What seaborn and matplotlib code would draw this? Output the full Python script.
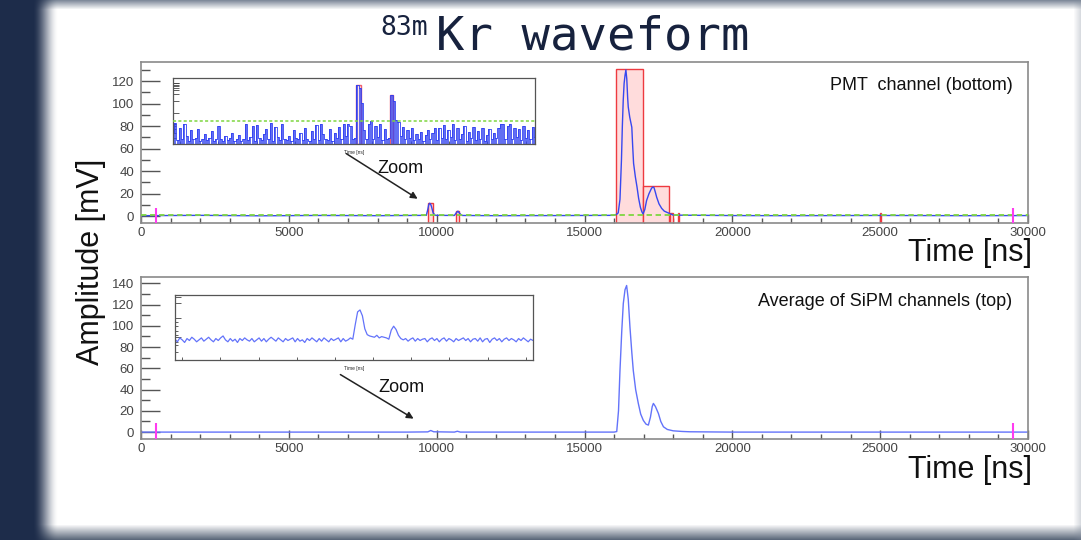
import matplotlib
matplotlib.use("Agg")
import matplotlib.pyplot as plt
import numpy as np
import seaborn as sns

# ---- data ----
# PMT channel (bottom), main trace
pmt_t = [0, 2000, 4000, 6000, 8000, 9650, 9700, 9730, 9760, 9790, 9820, 9850, 9880, 9950,
         10600, 10660, 10720, 10780, 10850, 12000, 14000, 16000, 16100, 16140, 16200, 16250,
         16280, 16310, 16340, 16370, 16400, 16430, 16460, 16480, 16530, 16600, 16630, 16660,
         16720, 16776, 16830, 16890, 16940, 16980, 17040, 17100, 17180, 17270, 17320, 17350,
         17400, 17440, 17520, 17610, 17700, 17830, 18000, 20000, 22000, 25000, 28000, 30000]
pmt_a = [0.5, 0.8, 0.4, 0.7, 0.5, 0.8, 6, 10, 11.5, 11, 9, 6, 3, 0.8,
         0.7, 3, 4.5, 2.5, 0.7, 0.5, 0.6, 0.8, 2, 3, 15, 50,
         80, 103, 118, 125, 130, 122, 105, 97, 88, 79, 62, 47,
         35, 26, 16, 8, 4, 2, 6, 14, 20, 25, 26, 25.5,
         21, 17, 11, 7, 4.5, 3, 1, 0.6, 0.5, 0.7, 0.5, 0.6]
pmt_threshold = 1.0

# pulse windows found on the PMT trace
box_start = [9700, 10640, 16060, 16980, 17890, 18150, 24980]
box_end = [9880, 10770, 16980, 17860, 18000, 18200, 25040]
box_height = [12.0, 4.8, 131, 27, 2.7, 2.5, 3.0]

# SiPM average (top), main trace
sipm_t = [0, 5000, 9000, 9700, 9800, 9900, 10600, 10700, 10800, 16000, 16090, 16150, 16200,
          16260, 16312, 16370, 16425, 16480, 16537, 16600, 16650, 16730, 16820, 16900, 16990,
          17080, 17160, 17230, 17290, 17330, 17400, 17500, 17580, 17670, 17800, 18000, 18300,
          18570, 20000, 30000]
sipm_a = [0, 0, 0, 0.2, 1.5, 0.3, 0, 0.8, 0, 0, 0.5, 20, 58,
          95, 121, 134, 138, 125, 99, 75, 58, 40, 27, 17, 11,
          7.5, 6.6, 14, 24, 27, 24, 17.5, 10, 5, 2.5, 1.2, 0.6,
          0.3, 0, 0]

# trigger markers
marker_t = [500, 29500]
marker_top = 7

# zoomed insets (arbitrary units, one value per sample)
pmt_zoom = [
    1.8, 3.1, 0.6, 2.4, 0.8, 3.0, 1.2, 0.5, 2.0, 0.7, 0.9, 2.2, 0.4, 0.8, 1.5, 0.6, 0.9, 1.9, 0.5, 0.7,
    2.6, 0.8, 0.5, 1.2, 0.6, 0.9, 1.6, 0.4, 0.7, 1.3, 0.5, 0.8, 2.9, 0.6, 1.1, 2.7, 0.5, 2.8, 0.9, 0.6,
    1.4, 2.2, 0.7, 3.1, 0.5, 2.5, 1.0, 0.6, 2.9, 0.8, 0.6, 1.2, 0.5, 2.0, 0.9, 0.7, 1.6, 0.6, 2.3, 0.8,
    0.5, 1.9, 0.7, 2.8, 0.6, 3.0, 1.4, 0.8, 0.6, 2.2, 0.5, 1.6, 0.9, 2.5, 0.7, 2.9, 1.2, 3.0, 2.6, 0.8,
    0.9, 8.7, 8.2, 6.0, 2.1, 0.8, 3.0, 3.4, 0.7, 2.6, 1.0, 3.0, 0.6, 2.2, 0.8, 0.9, 7.2, 6.3, 3.6, 3.3,
    1.2, 2.5, 0.7, 2.1, 0.9, 2.3, 0.6, 1.5, 0.8, 1.8, 0.5, 1.3, 2.0, 0.7, 1.6, 2.3, 0.6, 2.4, 0.9, 2.8,
    0.7, 2.0, 1.1, 2.9, 0.6, 2.3, 0.8, 1.4, 2.6, 0.5, 1.7, 0.9, 2.5, 0.6, 1.9, 0.8, 2.4, 0.5, 1.3, 2.2,
    0.7, 1.6, 0.9, 2.3, 3.0, 2.9, 0.8, 2.6, 3.0, 0.7, 2.4, 1.1, 2.2, 0.6, 2.6, 0.9, 2.0, 0.7, 2.5, 1.0,
]
pmt_zoom_threshold = 3.4
zoom_box_start = [80.4, 95.3]
zoom_box_end = [82.6, 96.6]
zoom_box_height = [8.7, 7.2]

sipm_zoom = [
    3.2, 2.8, 3.4, 3.1, 2.7, 3.3, 3.0, 3.5, 3.2, 2.8, 3.1, 3.4, 2.9, 3.2, 3.5,
    3.1, 2.8, 3.3, 3.0, 3.4, 3.7, 3.1, 2.8, 3.3, 2.9, 3.2, 2.7, 3.3, 3.0, 3.4,
    3.1, 2.9, 3.3, 2.8, 3.1, 3.4, 2.9, 3.3, 2.8, 3.2, 3.5, 3.2, 2.9, 3.4, 3.1,
    2.8, 3.3, 3.0, 3.2, 3.4, 2.8, 3.3, 2.9, 3.1, 2.7, 3.3, 3.0, 3.4, 3.1, 2.8,
    3.3, 2.9, 3.4, 3.1, 2.8, 3.3, 3.0, 3.2, 3.4, 2.8, 3.3, 2.9, 3.1, 3.4, 3.2,
    5.4, 7.4, 7.7, 6.8, 4.8, 3.9, 3.7, 3.6, 3.5, 3.8, 3.4, 3.6, 3.5, 3.4, 3.2,
    4.6, 5.2, 4.7, 3.8, 3.3, 3.1, 3.3, 2.9, 3.2, 3.4, 2.9, 3.3, 3.0, 3.2, 3.3,
    2.8, 3.2, 3.4, 3.0, 3.3, 2.8, 3.2, 3.4, 2.9, 3.3, 3.1, 2.8, 3.3, 3.0, 3.2,
    3.4, 3.0, 3.3, 2.8, 3.2, 3.3, 2.9, 3.4, 2.8, 3.2, 3.3, 2.7, 3.2, 3.4, 3.0,
    3.3, 2.8, 3.2, 3.4, 3.0, 3.3, 3.1, 2.8, 3.3, 3.0, 3.4, 3.1, 2.8, 3.2, 3.0,
]

# ---- style ----
sns.set_style("ticks")
plt.rcParams["font.family"] = ["Liberation Sans", "DejaVu Sans"]

BLUE = "#3747f0"
BLUE_LIGHT = "#6373fa"
GREEN = "#7fd640"
MAGENTA = "#ff3cf0"
RED = "#ee3a40"
NAVY = "#17223e"

fig = plt.figure(figsize=(10.81, 5.40), dpi=100)

# slide background: dark band on the left, grey rims top and bottom
H, W = 540, 1081
img = np.ones((H, W, 3))
rows = np.arange(H)[:, None]
cols = np.arange(W)[None, :]
grey_top = np.array([0x80, 0x8b, 0x9b]) / 255
grey_bot = np.array([0x5c, 0x68, 0x7a]) / 255
navy_band = np.array([0x1d, 0x2c, 0x4a]) / 255
wt = np.clip((9 - rows) / 9.0, 0, 1)[..., None] * np.ones((1, W, 1))
img = img * (1 - wt) + grey_top * wt
wb = np.clip((rows - 524) / 15.0, 0, 1)[..., None] * np.ones((1, W, 1))
img = img * (1 - wb) + grey_bot * wb
wr = np.clip((cols - 1073) / 8.0, 0, 1)[..., None] * np.ones((H, 1, 1)) * 0.35
img = img * (1 - wr) + grey_top * wr
s = np.clip((58 - cols) / 26.0, 0, 1)
wl = (s * s * (3 - 2 * s))[..., None] * np.ones((H, 1, 1))
img = img * (1 - wl) + navy_band * wl
bg = fig.add_axes([0, 0, 1, 1], zorder=-10)
bg.imshow(img, aspect="auto")
bg.axis("off")


def style_main(ax, y0, y1, ymax_tick):
    ax.set_xlim(0, 30000)
    ax.set_xticks([0, 5000, 10000, 15000, 20000, 25000, 30000])
    ax.set_xticks(np.arange(0, 30001, 1000), minor=True)
    ax.set_yticks(np.arange(0, ymax_tick + 1, 20))
    ax.set_yticks(np.arange(-10, y1, 10), minor=True)
    ax.set_ylim(y0, y1)
    ax.tick_params(axis="y", which="major", direction="in", length=13.5, width=1,
                   color="#555555", labelsize=9.5, labelcolor="#444444", pad=5)
    ax.tick_params(axis="y", which="minor", direction="in", length=6.7, width=1, color="#555555")
    ax.tick_params(axis="x", which="major", direction="in", length=6.5, width=1,
                   color="#555555", labelsize=9.5, labelcolor="#444444", pad=3)
    ax.tick_params(axis="x", which="minor", direction="in", length=3.6, width=1, color="#555555")
    for sp in ax.spines.values():
        sp.set_visible(True)
        sp.set_color("#8a8a8a")
        sp.set_linewidth(1.2)
    ax.set_xlabel("")
    ax.set_ylabel("")


def style_inset(ax):
    ax.set_xticklabels([])
    ax.set_yticklabels([])
    ax.tick_params(axis="both", which="both", direction="in", color="#444444", width=0.6)
    ax.tick_params(axis="x", which="major", length=2.5)
    ax.tick_params(axis="y", which="major", length=4)
    ax.tick_params(axis="y", which="minor", length=2)
    for sp in ax.spines.values():
        sp.set_visible(True)
        sp.set_color("#555555")
        sp.set_linewidth(0.9)
    ax.set_ylabel("")


# ---- top panel: PMT ----
ax1 = fig.add_axes([141 / W, 1 - 223 / H, 887 / W, 161 / H])
y0_top = -6
ax1.bar(box_start, np.array(box_height) - y0_top, width=np.array(box_end) - np.array(box_start),
        bottom=y0_top, align="edge", color="#ffdcdc", edgecolor=RED, linewidth=1.0, zorder=1)
ax1.axhline(pmt_threshold, color=GREEN, linestyle=(0, (3, 2)), linewidth=1.3, zorder=3)
sns.lineplot(x=pmt_t, y=pmt_a, ax=ax1, color=BLUE, linewidth=1.0, zorder=2)
ax1.vlines(marker_t, y0_top, marker_top, color=MAGENTA, linewidth=1.5, zorder=4)
style_main(ax1, y0_top, 137, 120)
ax1.text(0.983, 0.851, "PMT  channel (bottom)", transform=ax1.transAxes,
         ha="right", va="center", fontsize=13, color="#111111")
ax1.annotate("", xy=(9436, 14.2), xytext=(6866, 56.9),
             arrowprops=dict(arrowstyle="-|>", color="#222222", lw=1.1, mutation_scale=10))
ax1.text(8760, 42.7, "Zoom", ha="center", va="center", fontsize=13, color="#111111")

# ---- bottom panel: SiPM ----
ax2 = fig.add_axes([141 / W, 1 - 439 / H, 887 / W, 162 / H])
y0_bot = -6.5
sns.lineplot(x=sipm_t, y=sipm_a, ax=ax2, color=BLUE_LIGHT, linewidth=1.0, zorder=2)
ax2.vlines(marker_t, y0_bot, marker_top + 1.5, color=MAGENTA, linewidth=1.5, zorder=4)
style_main(ax2, y0_bot, 146, 140)
ax2.text(0.982, 0.846, "Average of SiPM channels (top)", transform=ax2.transAxes,
         ha="right", va="center", fontsize=13, color="#111111")
ax2.annotate("", xy=(9301, 11.3), xytext=(6663, 55.5),
             arrowprops=dict(arrowstyle="-|>", color="#222222", lw=1.1, mutation_scale=10))
ax2.text(8794, 42.3, "Zoom", ha="center", va="center", fontsize=13, color="#111111")

# ---- insets ----
in1 = fig.add_axes([173 / W, 1 - 144 / H, 362 / W, 66 / H])
idx1 = np.arange(len(pmt_zoom))
in1.bar(zoom_box_start, zoom_box_height, width=np.array(zoom_box_end) - np.array(zoom_box_start),
        align="edge", color="#ffe4e4", edgecolor="#f06070", linewidth=1.0, zorder=1)
in1.axhline(pmt_zoom_threshold, color=GREEN, linestyle=(0, (2, 1.5)), linewidth=1.1, zorder=3)
in1.vlines(idx1, 0, pmt_zoom, color="#3344f0", linewidth=1.1, zorder=2)
sns.lineplot(x=idx1, y=pmt_zoom, ax=in1, color="#2f3ff2", linewidth=0.6,
             drawstyle="steps-mid", zorder=2)
in1.set_xlim(0, len(pmt_zoom) - 1)
in1.set_ylim(0, 9.7)
in1.set_xticks(np.linspace(3, 155, 10))
in1.set_yticks([4.6, 6.3, 7.4, 8.0, 8.3, 8.5, 8.7, 8.9, 9.0])
in1.set_yticks([0.9, 1.6, 2.2, 2.6, 2.9], minor=True)
style_inset(in1)
in1.set_xlabel("Time [ns]", fontsize=3.5, labelpad=1)

in2 = fig.add_axes([175 / W, 1 - 360 / H, 358 / W, 65 / H])
idx2 = np.arange(len(sipm_zoom))
sns.lineplot(x=idx2, y=sipm_zoom, ax=in2, color=BLUE_LIGHT, linewidth=0.9, zorder=2)
in2.set_xlim(0, len(sipm_zoom) - 1)
in2.set_ylim(0, 10)
in2.set_xticks(np.linspace(3, 146, 10))
in2.set_yticks([3.5, 6.4, 8.8, 9.7])
in2.set_yticks([1.2, 2.3, 2.8, 3.8, 4.4, 5.2, 5.8], minor=True)
style_inset(in2)
in2.set_xlabel("Time [ns]", fontsize=3.5, labelpad=1)

# ---- shared labels and title ----
fig.text(1032 / W, 1 - 253 / H, "Time [ns]", ha="right", va="center", fontsize=22, color="#111111")
fig.text(1032 / W, 1 - 470 / H, "Time [ns]", ha="right", va="center", fontsize=22, color="#111111")
fig.text(91 / W, 1 - 262 / H, "Amplitude [mV]", rotation=90, ha="center", va="center",
         fontsize=22, color="#111111")
fig.text(380 / W, 1 - 35 / H, "83m", ha="left", va="baseline", fontsize=19,
         family="DejaVu Sans Mono", color=NAVY)
fig.text(436 / W, 1 - 50 / H, "Kr waveform", ha="left", va="baseline", fontsize=34,
         family="DejaVu Sans Mono", color=NAVY)

fig.savefig("out.png", dpi=100)
